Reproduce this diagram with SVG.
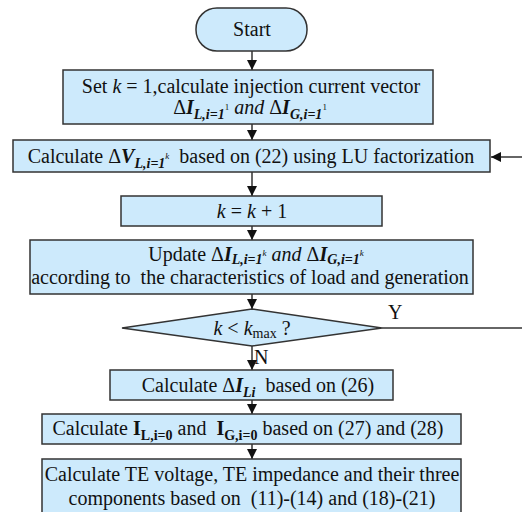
<svg xmlns="http://www.w3.org/2000/svg" width="522" height="512" viewBox="0 0 522 512">
  <style>
    .box { fill: #cdeafc; stroke: #333333; stroke-width: 1.5; }
    .wire { fill: none; stroke: #333333; stroke-width: 1.5; }
    text { font-family: "Liberation Serif", "Times New Roman", serif; font-size: 20px; fill: #111111; white-space: pre; }
    .c { text-anchor: middle; }
    .it { font-style: italic; }
    .bi { font-style: italic; font-weight: bold; }
    .b { font-weight: bold; }
    .sub { font-size: 14px; }
    .sup { font-size: 9px; }
  </style>
  <defs>
    <marker id="arrow" viewBox="0 0 10 10" refX="10" refY="5" markerWidth="10" markerHeight="10" markerUnits="userSpaceOnUse" orient="auto">
      <path d="M0,0 L10,5 L0,10 Z" fill="#111111"/>
    </marker>
  </defs>

  <rect width="522" height="512" fill="#ffffff"/>

  <!-- connectors -->
  <g id="connectors">
    <line class="wire" x1="252" y1="51" x2="252" y2="70" marker-end="url(#arrow)"/>
    <line class="wire" x1="252" y1="124" x2="252" y2="140" marker-end="url(#arrow)"/>
    <line class="wire" x1="252" y1="172" x2="252" y2="196" marker-end="url(#arrow)"/>
    <line class="wire" x1="252" y1="226" x2="252" y2="240" marker-end="url(#arrow)"/>
    <line class="wire" x1="252" y1="294" x2="252" y2="309" marker-end="url(#arrow)"/>
    <line class="wire" x1="252" y1="346" x2="252" y2="370" marker-end="url(#arrow)"/>
    <line class="wire" x1="252" y1="400" x2="252" y2="414" marker-end="url(#arrow)"/>
    <line class="wire" x1="252" y1="444" x2="252" y2="459" marker-end="url(#arrow)"/>
    <!-- loop back: yes branch leaves to the right, returns into the LU step -->
    <line class="wire" x1="382" y1="328" x2="522" y2="328"/>
    <line class="wire" x1="522" y1="157" x2="491" y2="157" marker-end="url(#arrow)"/>
    <text x="388" y="319">Y</text>
    <text x="254" y="364">N</text>
  </g>

  <g id="start">
    <rect class="box" x="196" y="8" width="111" height="43" rx="21" ry="21"/>
    <text class="c" x="252" y="36">Start</text>
  </g>

  <g id="init">
    <rect class="box" x="63" y="70" width="370" height="54"/>
    <text class="c" x="251" y="93">Set <tspan class="it">k</tspan> = 1,calculate injection current vector</text>
    <text class="c" x="250" y="114">Δ<tspan class="bi">I</tspan><tspan class="bi sub" dy="5">L,i=1</tspan><tspan class="sup" dy="-9">1</tspan><tspan class="it" dy="4"> and </tspan>Δ<tspan class="bi">I</tspan><tspan class="bi sub" dy="5">G,i=1</tspan><tspan class="sup" dy="-9">1</tspan></text>
  </g>

  <g id="lu-solve">
    <rect class="box" x="13" y="140" width="477" height="32"/>
    <text class="c" x="251" y="163">Calculate Δ<tspan class="bi">V</tspan><tspan class="bi sub" dy="5">L,i=1</tspan><tspan class="sup it" dy="-9">k</tspan><tspan dy="4">  based on (22) using LU factorization</tspan></text>
  </g>

  <g id="increment">
    <rect class="box" x="121" y="196" width="261" height="30"/>
    <text class="c" x="252" y="218"><tspan class="it">k</tspan> = <tspan class="it">k</tspan> + 1</text>
  </g>

  <g id="update">
    <rect class="box" x="30" y="240" width="443" height="54"/>
    <text class="c" x="256" y="261">Update Δ<tspan class="bi">I</tspan><tspan class="bi sub" dy="3">L,i=1</tspan><tspan class="sup it" dy="-8">k</tspan><tspan class="it" dy="5"> and </tspan>Δ<tspan class="bi">I</tspan><tspan class="bi sub" dy="3">G,i=1</tspan><tspan class="sup it" dy="-8">k</tspan></text>
    <text class="c" x="250" y="284">according to  the characteristics of load and generation</text>
  </g>

  <g id="check">
    <polygon class="box" points="252,309 382,328 252,346 122,328"/>
    <text class="c" x="252" y="335"><tspan class="it">k</tspan> &lt; <tspan class="it">k</tspan><tspan class="sub" dy="3">max</tspan><tspan dy="-3"> ?</tspan></text>
  </g>

  <g id="delta-current">
    <rect class="box" x="110" y="370" width="283" height="30"/>
    <text class="c" x="258" y="392">Calculate Δ<tspan class="bi">I</tspan><tspan class="bi sub" dy="5">Li</tspan><tspan dy="-5">  based on (26)</tspan></text>
  </g>

  <g id="base-current">
    <rect class="box" x="42" y="414" width="419" height="30"/>
    <text class="c" x="248" y="435">Calculate <tspan class="b">I</tspan><tspan class="b sub" dy="5">L,i=0</tspan><tspan dy="-5"> and  </tspan><tspan class="b">I</tspan><tspan class="b sub" dy="5">G,i=0</tspan><tspan dy="-5"> based on (27) and (28)</tspan></text>
  </g>

  <g id="thevenin">
    <rect class="box" x="42" y="459" width="419" height="60"/>
    <text class="c" x="252" y="481">Calculate TE voltage, TE impedance and their three</text>
    <text class="c" x="252" y="505">components based on  (11)-(14) and (18)-(21)</text>
  </g>
</svg>
